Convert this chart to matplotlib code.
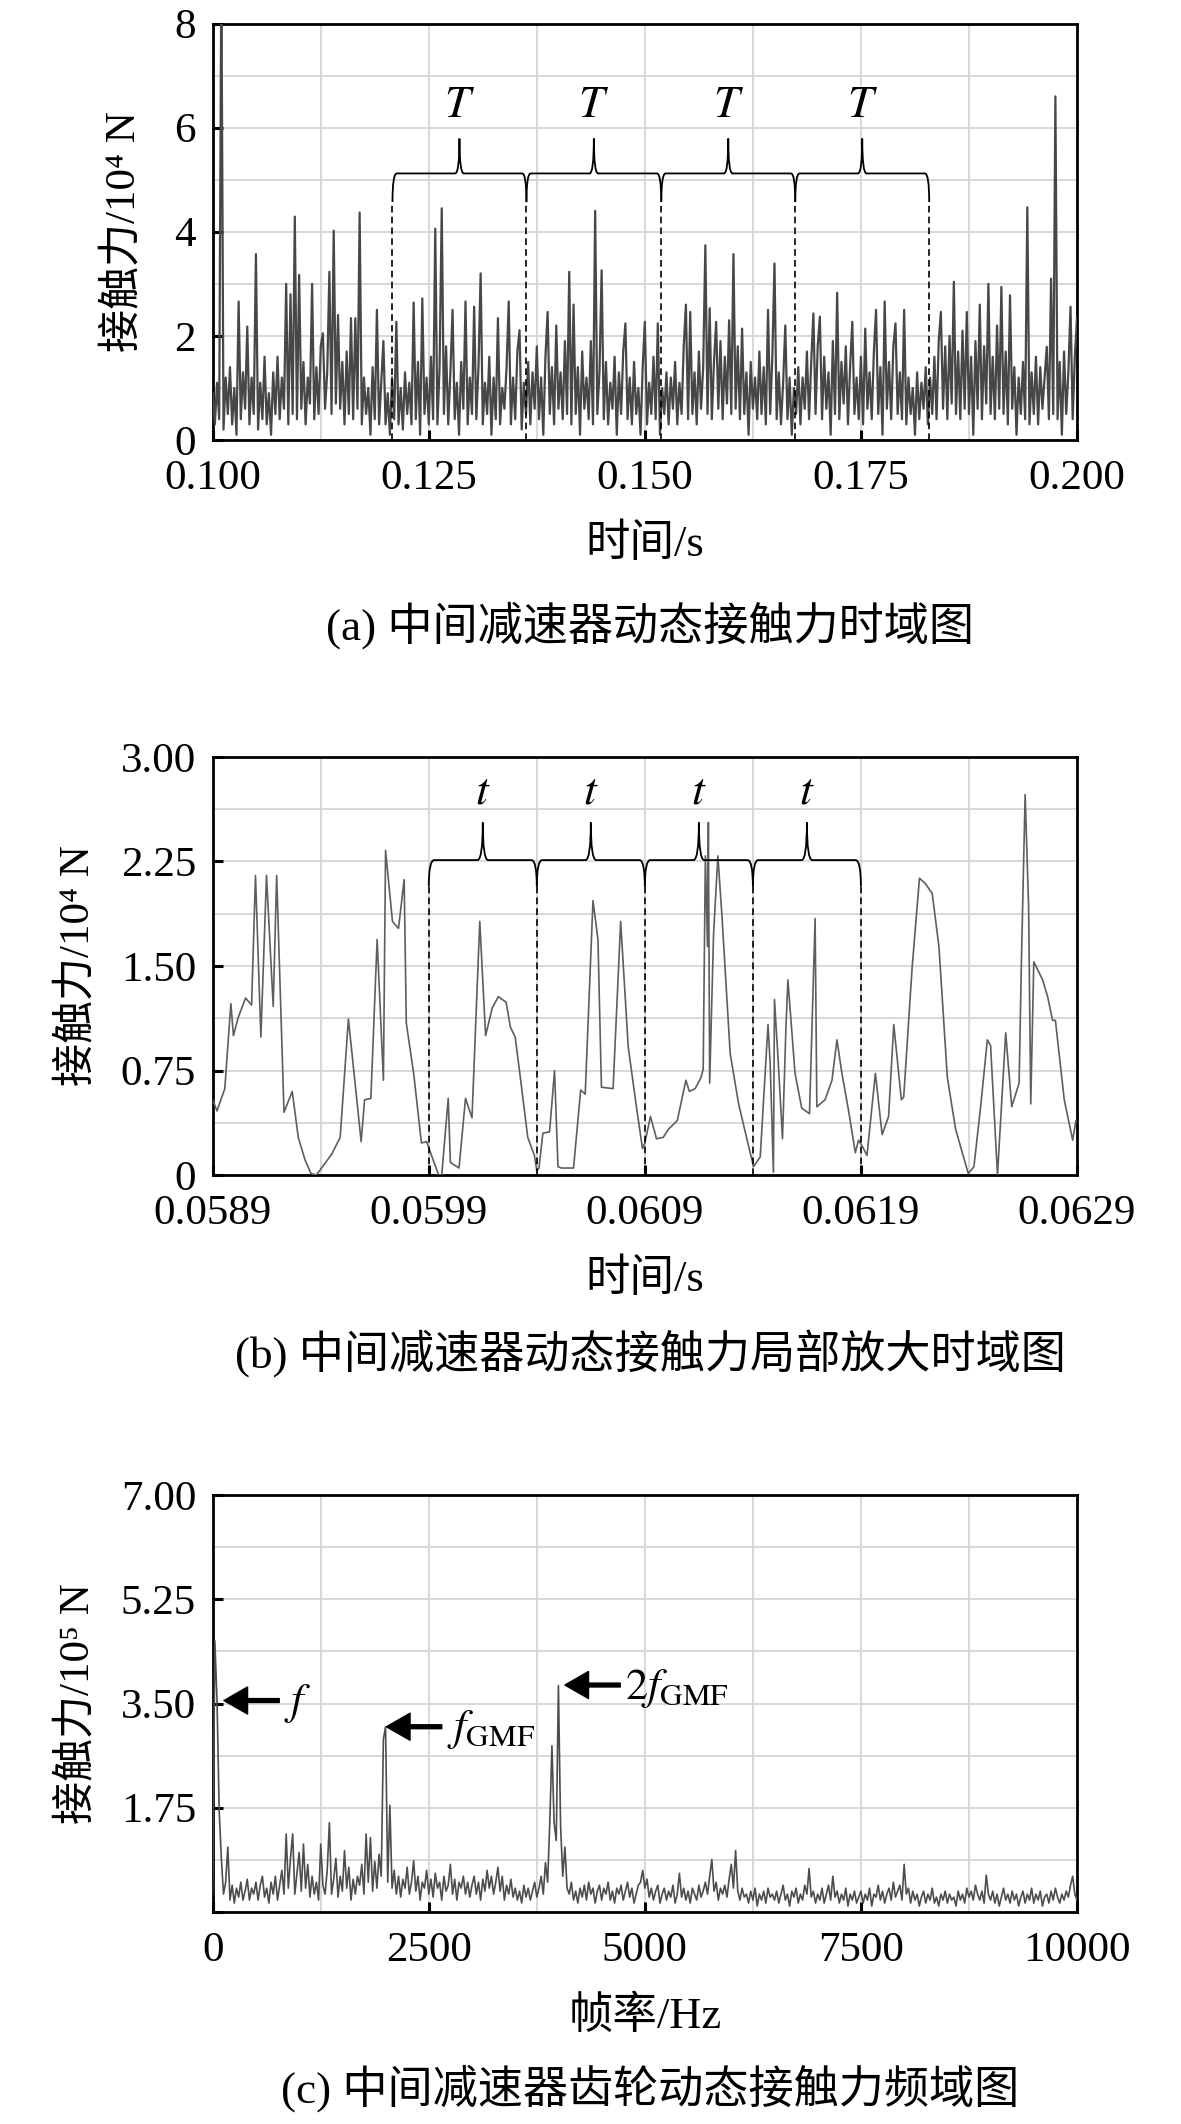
import numpy as np
import matplotlib
matplotlib.use('Agg')
import matplotlib.pyplot as plt
from matplotlib.path import Path
from matplotlib.patches import PathPatch

plt.rcParams['font.family'] = ['Liberation Serif', 'Noto Sans CJK SC', 'DejaVu Serif']
plt.rcParams['mathtext.fontset'] = 'stix'
plt.rcParams['axes.unicode_minus'] = False

# ---------------- data ----------------
# (a) contact force, 0.100-0.200 s, unit 1e4 N (sampled every 0.25 ms)
a_force = [
    0.9, 0.3, 1.1, 0.4, 9.0, 0.2, 1.2, 0.5, 1.4, 0.3, 1.0, 0.1, 2.66, 0.4, 1.3, 0.6, 2.18, 0.3, 1.2, 0.5,
    3.57, 0.2, 1.1, 0.4, 1.6, 0.3, 0.9, 0.1, 1.3, 0.5, 1.6, 0.4, 1.2, 0.6, 3.0, 0.3, 2.8, 0.5, 4.29, 0.4,
    3.17, 0.6, 1.5, 0.3, 1.2, 0.7, 3.0, 0.4, 1.4, 0.5, 1.8, 2.05, 0.6, 1.3, 3.23, 0.5, 4.02, 0.7, 2.4, 0.6,
    1.5, 0.3, 1.7, 0.5, 2.34, 0.4, 2.34, 0.6, 4.37, 0.3, 1.2, 0.5, 1.0, 0.1, 1.4, 0.4, 2.5, 0.3, 1.1, 1.9,
    0.3, 0.9, 0.1, 1.2, 0.4, 2.27, 0.3, 1.0, 0.2, 1.3, 0.5, 1.1, 0.3, 2.64, 0.4, 1.5, 0.1, 2.72, 0.5, 1.2,
    0.3, 1.6, 0.4, 4.06, 0.3, 1.4, 4.45, 0.5, 1.8, 0.3, 1.3, 2.5, 0.4, 1.1, 0.1, 1.5, 0.6, 2.66, 0.3, 1.2,
    0.5, 2.56, 0.4, 1.4, 3.2, 0.3, 1.1, 0.5, 1.6, 0.1, 1.2, 0.4, 2.34, 0.3, 1.0, 0.6, 1.4, 2.66, 0.3, 1.2,
    0.4, 1.7, 2.11, 0.2, 1.1, 0.5, 1.5, 0.3, 1.3, 0.6, 1.8, 0.4, 1.2, 0.1, 1.6, 2.46, 0.5, 1.4, 0.3, 2.2,
    0.6, 1.3, 0.4, 1.9, 0.5, 3.23, 0.3, 2.6, 0.5, 1.4, 0.1, 1.7, 0.6, 1.2, 0.4, 1.9, 0.3, 4.4, 0.5, 1.3,
    3.26, 0.4, 1.5, 0.3, 1.1, 0.6, 1.6, 0.1, 1.3, 0.5, 1.7, 2.24, 0.4, 1.2, 0.3, 1.5, 0.5, 1.0, 0.1, 1.4,
    2.27, 0.3, 1.1, 0.5, 1.6, 0.4, 2.24, 0.1, 1.0, 0.5, 1.3, 0.3, 1.2, 0.6, 1.5, 0.3, 1.1, 0.5, 1.8, 2.6,
    0.4, 2.46, 0.5, 1.3, 0.3, 1.7, 0.6, 1.4, 3.74, 0.5, 2.53, 0.4, 1.5, 2.27, 0.6, 1.9, 0.4, 1.6, 0.7, 2.3,
    0.5, 3.57, 0.6, 1.8, 0.4, 2.14, 0.5, 1.3, 0.1, 1.5, 0.6, 1.2, 0.4, 1.7, 0.5, 1.4, 0.3, 2.5, 0.5, 1.6,
    3.39, 0.4, 1.3, 0.3, 1.1, 2.2, 0.4, 1.2, 0.1, 1.0, 0.5, 1.4, 0.3, 1.2, 0.6, 1.7, 0.4, 1.5, 2.43, 0.5,
    1.8, 2.37, 0.4, 1.6, 0.6, 1.3, 0.1, 1.9, 0.5, 2.83, 0.4, 1.5, 0.7, 1.8, 0.3, 1.4, 2.27, 0.5, 1.2, 0.4,
    1.6, 0.3, 2.14, 0.6, 1.3, 0.4, 1.7, 2.5, 0.5, 1.4, 0.1, 2.66, 0.6, 1.5, 0.4, 1.8, 2.24, 0.5, 1.3, 0.4,
    2.5, 0.3, 1.2, 0.5, 1.0, 0.1, 1.3, 0.4, 1.1, 0.6, 1.4, 0.3, 1.2, 0.5, 1.6, 0.4, 1.9, 2.46, 0.6, 1.8,
    0.4, 2.0, 0.7, 3.04, 0.5, 1.7, 0.4, 2.1, 0.6, 2.46, 0.5, 1.6, 0.1, 1.9, 0.6, 2.6, 0.4, 1.8, 0.7, 3.0,
    0.5, 1.6, 0.4, 2.2, 0.6, 2.94, 0.5, 1.7, 0.3, 2.78, 0.6, 1.4, 0.1, 1.2, 0.5, 1.5, 0.4, 4.47, 0.3, 1.3,
    0.5, 1.6, 0.3, 1.4, 0.6, 1.2, 1.79, 0.4, 3.1, 0.5, 6.6, 0.4, 1.5, 0.1, 1.7, 0.5, 1.3, 2.56, 0.4, 1.6,
    2.34,
]
a_xticks = [0.100, 0.125, 0.150, 0.175, 0.200]
a_xticklabels = ['0.100', '0.125', '0.150', '0.175', '0.200']
a_yticks = [0, 2, 4, 6, 8]
a_yticklabels = ['0', '2', '4', '6', '8']
a_brace_edges = [0.1208, 0.1363, 0.1519, 0.1674, 0.1829]

# (b) zoomed contact force, time in ms, unit 1e4 N
b_time_ms = [
    58.900, 58.920, 58.956, 58.984, 58.996, 59.018, 59.052, 59.080, 59.098, 59.123,
    59.149, 59.180, 59.196, 59.230, 59.268, 59.296, 59.327, 59.355, 59.380, 59.451,
    59.490, 59.528, 59.587, 59.603, 59.632, 59.661, 59.690, 59.700, 59.732, 59.760,
    59.786, 59.796, 59.830, 59.866, 59.890, 59.915, 59.946, 59.960, 59.990, 60.000,
    60.040, 60.070, 60.100, 60.136, 60.163, 60.194, 60.222, 60.258, 60.278, 60.300,
    60.327, 60.358, 60.389, 60.400, 60.410, 60.428, 60.459, 60.482, 60.498, 60.513,
    60.570, 60.603, 60.624, 60.660, 60.683, 60.699, 60.753, 60.788, 60.823, 60.861,
    60.889, 60.900, 60.926, 60.954, 60.985, 61.010, 61.050, 61.090, 61.106, 61.133,
    61.160, 61.170, 61.180, 61.190, 61.194, 61.200, 61.218, 61.238, 61.256, 61.295,
    61.334, 61.372, 61.403, 61.434, 61.470, 61.480, 61.495, 61.500, 61.517, 61.537,
    61.553, 61.562, 61.595, 61.626, 61.662, 61.688, 61.696, 61.734, 61.766, 61.789,
    61.812, 61.843, 61.874, 61.889, 61.905, 61.928, 61.967, 61.998, 62.028, 62.052,
    62.087, 62.098, 62.137, 62.171, 62.199, 62.230, 62.261, 62.300, 62.338, 62.369,
    62.397, 62.423, 62.454, 62.485, 62.500, 62.532, 62.570, 62.598, 62.632, 62.643,
    62.660, 62.676, 62.686, 62.700, 62.741, 62.764, 62.787, 62.800, 62.841, 62.880,
    62.895,
]
b_force = [
    0.54, 0.46, 0.62, 1.23, 1.00, 1.13, 1.27, 1.22, 2.15, 0.99,
    2.15, 1.21, 2.15, 0.45, 0.60, 0.27, 0.11, 0.01, 0.00, 0.15,
    0.27, 1.12, 0.24, 0.54, 0.55, 1.69, 0.68, 2.33, 1.82, 1.77,
    2.12, 1.09, 0.73, 0.23, 0.24, 0.13, 0.00, 0.00, 0.55, 0.09,
    0.05, 0.55, 0.41, 1.82, 1.00, 1.20, 1.28, 1.24, 1.06, 0.99,
    0.66, 0.27, 0.14, 0.03, 0.05, 0.30, 0.31, 0.75, 0.06, 0.05,
    0.05, 0.61, 0.58, 1.97, 1.69, 0.63, 0.62, 1.82, 0.92, 0.49,
    0.19, 0.23, 0.42, 0.26, 0.27, 0.33, 0.39, 0.68, 0.60, 0.62,
    0.70, 0.76, 2.29, 1.64, 2.53, 0.66, 1.73, 2.29, 1.88, 0.87,
    0.51, 0.26, 0.06, 0.13, 1.08, 0.80, 0.02, 1.26, 0.82, 0.26,
    1.06, 1.40, 0.73, 0.48, 0.44, 1.84, 0.49, 0.54, 0.68, 0.97,
    0.73, 0.46, 0.16, 0.25, 0.21, 0.14, 0.73, 0.29, 0.42, 1.08,
    0.54, 0.56, 1.49, 2.13, 2.09, 2.02, 1.64, 0.70, 0.33, 0.16,
    0.01, 0.06, 0.49, 0.97, 0.93, 0.00, 1.02, 0.49, 0.66, 1.55,
    2.73, 1.93, 0.51, 1.53, 1.40, 1.28, 1.11, 1.11, 0.54, 0.25,
    0.39,
]
b_xticks = [0.0589, 0.0599, 0.0609, 0.0619, 0.0629]
b_xticklabels = ['0.0589', '0.0599', '0.0609', '0.0619', '0.0629']
b_yticks = [0, 0.75, 1.50, 2.25, 3.00]
b_yticklabels = ['0', '0.75', '1.50', '2.25', '3.00']
b_brace_edges = [0.0599, 0.0604, 0.0609, 0.0614, 0.0619]

# (c) spectrum, 0-10000 Hz (25 Hz bins), unit 1e5 N
c_amp = [
    0.3, 4.55, 3.55, 1.7, 0.9, 0.3, 0.5, 1.09, 0.2, 0.45, 0.15, 0.4, 0.25, 0.5, 0.2, 0.35, 0.55, 0.2, 0.4, 0.3,
    0.5, 0.2, 0.45, 0.6, 0.25, 0.4, 0.15, 0.5, 0.3, 0.6, 0.2, 0.45, 0.7, 0.3, 1.31, 0.4, 0.9, 1.31, 0.3, 0.65,
    1.0, 0.35, 1.14, 0.4, 0.8, 0.25, 0.6, 0.3, 0.5, 0.2, 1.14, 0.45, 0.3, 0.7, 1.5, 0.3, 0.55, 0.9, 0.25, 0.6,
    0.35, 1.03, 0.4, 0.75, 0.2, 0.55, 0.3, 0.6, 0.45, 0.8, 0.3, 1.31, 0.5, 1.25, 0.35, 0.85, 0.4, 0.97, 0.6, 2.9,
    3.11, 0.5, 1.79, 0.4, 0.7, 0.3, 0.6, 0.25, 0.55, 0.4, 0.75, 0.3, 0.5, 0.86, 0.35, 0.6, 0.2, 0.5, 0.4, 0.7,
    0.3, 0.55, 0.25, 0.65, 0.4, 0.5, 0.2, 0.6, 0.35, 0.45, 0.8, 0.3, 0.55, 0.2, 0.5, 0.4, 0.6, 0.3, 0.5, 0.25,
    0.45, 0.6, 0.3, 0.5, 0.2, 0.55, 0.35, 0.7, 0.4, 0.6, 0.3, 0.5, 0.75, 0.35, 0.6, 0.2, 0.45, 0.3, 0.55, 0.25,
    0.4, 0.2, 0.35, 0.15, 0.45, 0.25, 0.4, 0.2, 0.35, 0.5, 0.25, 0.4, 0.6, 0.3, 0.83, 0.5, 1.5, 2.79, 1.5, 1.2,
    3.8, 1.45, 0.6, 1.09, 0.4, 0.3, 0.5, 0.2, 0.35, 0.15, 0.4, 0.25, 0.45, 0.2, 0.5, 0.3, 0.4, 0.15, 0.35, 0.45,
    0.2, 0.4, 0.3, 0.5, 0.2, 0.35, 0.15, 0.4, 0.3, 0.45, 0.2, 0.35, 0.5, 0.25, 0.4, 0.15, 0.3, 0.45, 0.5, 0.7,
    0.4, 0.55, 0.25, 0.4, 0.2, 0.35, 0.45, 0.15, 0.3, 0.4, 0.2, 0.35, 0.25, 0.45, 0.15, 0.3, 0.65, 0.25, 0.4, 0.2,
    0.35, 0.15, 0.4, 0.3, 0.2, 0.45, 0.25, 0.35, 0.5, 0.3, 0.6, 0.88, 0.35, 0.5, 0.2, 0.4, 0.3, 0.45, 0.25, 0.55,
    0.8, 0.4, 1.03, 0.35, 0.2, 0.4, 0.25, 0.3, 0.15, 0.35, 0.2, 0.4, 0.1, 0.3, 0.2, 0.35, 0.15, 0.4, 0.25, 0.3,
    0.2, 0.35, 0.15, 0.3, 0.45, 0.2, 0.3, 0.1, 0.35, 0.25, 0.4, 0.15, 0.3, 0.2, 0.45, 0.3, 0.73, 0.25, 0.35, 0.15,
    0.3, 0.2, 0.4, 0.15, 0.3, 0.45, 0.2, 0.6, 0.25, 0.35, 0.15, 0.3, 0.2, 0.4, 0.1, 0.3, 0.2, 0.35, 0.15, 0.25,
    0.35, 0.15, 0.3, 0.2, 0.4, 0.1, 0.3, 0.25, 0.45, 0.2, 0.35, 0.15, 0.3, 0.4, 0.2, 0.5, 0.25, 0.35, 0.45, 0.2,
    0.8, 0.3, 0.4, 0.15, 0.35, 0.2, 0.3, 0.1, 0.25, 0.35, 0.15, 0.3, 0.2, 0.4, 0.15, 0.25, 0.1, 0.3, 0.2, 0.35,
    0.15, 0.3, 0.2, 0.25, 0.1, 0.35, 0.2, 0.3, 0.15, 0.4, 0.25, 0.35, 0.2, 0.45, 0.3, 0.2, 0.35, 0.15, 0.62, 0.3,
    0.2, 0.35, 0.15, 0.3, 0.1, 0.25, 0.4, 0.2, 0.3, 0.15, 0.35, 0.2, 0.3, 0.1, 0.25, 0.35, 0.15, 0.3, 0.2, 0.4,
    0.15, 0.3, 0.2, 0.35, 0.1, 0.25, 0.3, 0.15, 0.35, 0.2, 0.4, 0.25, 0.15, 0.3, 0.2, 0.35, 0.25, 0.45, 0.6, 0.3,
    0.2,
]
c_xticks = [0, 2500, 5000, 7500, 10000]
c_xticklabels = ['0', '2500', '5000', '7500', '10000']
c_yticks = [0, 1.75, 3.50, 5.25, 7.00]
c_yticklabels = ['', '1.75', '3.50', '5.25', '7.00']
# peak markers: (arrow tip x, arrow tip y, label)
c_peaks = [(130, 3.55, r'$f$'), (2010, 3.11, r'$f_{\mathrm{GMF}}$'), (4075, 3.81, r'$2f_{\mathrm{GMF}}$')]


W, H = 1181, 2124
fig = plt.figure(figsize=(W / 100, H / 100), dpi=100)


def px_axes(top, bottom):
    left, right = 212.7, 1077
    return fig.add_axes([left / W, 1 - bottom / H, (right - left) / W, (bottom - top) / H])


def style(ax, xlim, ylim, xticks, xlabels, yticks, ylabels, xminor, yminor, xlabel, ylabel, ylab_x):
    ax.set_xlim(*xlim)
    ax.set_ylim(*ylim)
    ax.set_xticks(xticks)
    ax.set_xticklabels(xlabels)
    ax.set_yticks(yticks)
    ax.set_yticklabels(ylabels)
    ax.set_xticks(xminor, minor=True)
    ax.set_yticks(yminor, minor=True)
    ax.set_axisbelow(True)
    ax.grid(which='both', color='#d6d6d6', lw=1.3)
    ax.tick_params(which='major', direction='in', length=7, width=2.2, labelsize=31,
                   top=False, right=False)
    ax.tick_params(axis='x', pad=14)
    ax.tick_params(axis='y', pad=12)
    ax.tick_params(which='minor', length=0)
    for s in ax.spines.values():
        s.set_linewidth(2.0)
    ax.set_xlabel(xlabel, fontsize=32)
    ax.xaxis.label.set_va('center')
    ax.xaxis.set_label_coords(0.5, -0.25)
    ax.set_ylabel(ylabel, fontsize=31)
    ax.yaxis.label.set_va('center')
    ax.yaxis.set_label_coords(ylab_x, 0.5)


def braces(ax, edges, y_end, y_line, y_peak, y_text, w, label, fs):
    for a, b in zip(edges[:-1], edges[1:]):
        m = (a + b) / 2
        verts = [(a, y_end), (a, y_line), (a + w, y_line), (m - w, y_line),
                 (m, y_line), (m, y_peak), (m, y_line), (m + w, y_line),
                 (b - w, y_line), (b, y_line), (b, y_end)]
        codes = [Path.MOVETO, Path.CURVE3, Path.CURVE3, Path.LINETO,
                 Path.CURVE3, Path.CURVE3, Path.CURVE3, Path.CURVE3,
                 Path.LINETO, Path.CURVE3, Path.CURVE3]
        ax.add_patch(PathPatch(Path(verts, codes), fill=False, lw=1.3, edgecolor='k', zorder=4))
        ax.text(m, y_text, label, fontsize=fs, ha='center', va='center', zorder=4)
    ax.vlines(edges, 0, y_end, colors='k', lw=1.2, linestyles=(0, (4, 2.5)), zorder=4)


# ---- (a) ----
ax1 = px_axes(23.5, 440)
t_a = np.linspace(a_xticks[0], a_xticks[-1], len(a_force))
ax1.plot(t_a, a_force, color='#474747', lw=1.6, zorder=3)
style(ax1, (0.1, 0.2), (0, 8), a_xticks, a_xticklabels, a_yticks, a_yticklabels,
      np.arange(0.1, 0.2001, 0.0125), np.arange(0, 8.01, 1), '时间/s', '接触力/10⁴ N', -0.103)
braces(ax1, a_brace_edges, 4.57, 5.12, 5.79, 6.42, 0.0005, r'$T$', 33)

# ---- (b) ----
ax2 = px_axes(757, 1175)
ax2.plot(np.array(b_time_ms) / 1000, b_force, color='#5e5e5e', lw=1.2, zorder=3)
style(ax2, (0.0589, 0.0629), (0, 3), b_xticks, b_xticklabels, b_yticks, b_yticklabels,
      np.arange(0.0589, 0.06291, 0.0005), np.arange(0, 3.01, 0.375), '时间/s', '接触力/10⁴ N', -0.157)
braces(ax2, b_brace_edges, 2.07, 2.26, 2.53, 2.75, 0.000025, r'$t$', 33)

# ---- (c) ----
ax3 = px_axes(1495, 1912)
f_c = np.linspace(c_xticks[0], c_xticks[-1], len(c_amp))
ax3.plot(f_c, c_amp, color='#4d4d4d', lw=1.2, zorder=3)
style(ax3, (0, 10000), (0, 7), c_xticks, c_xticklabels, c_yticks, c_yticklabels,
      np.arange(0, 10001, 1250), np.arange(0, 7.01, 0.875), '帧率/Hz', '接触力/10⁵ N', -0.157)
for x, y, lab in c_peaks:
    ax3.annotate('', xy=(x, y), xytext=(x + 640, y),
                 arrowprops=dict(facecolor='k', edgecolor='k', width=2.8, headwidth=19.5,
                                 headlength=17, shrink=0), zorder=5)
    ax3.text(x + 700, y - 0.05, lab, fontsize=32, ha='left', va='center', zorder=5)

# captions
fig.text(650 / W, 1 - 625 / H, '(a) 中间减速器动态接触力时域图', ha='center', va='center', fontsize=32.5)
fig.text(650 / W, 1 - 1353 / H, '(b) 中间减速器动态接触力局部放大时域图', ha='center', va='center', fontsize=32.5)
fig.text(650 / W, 1 - 2088 / H, '(c) 中间减速器齿轮动态接触力频域图', ha='center', va='center', fontsize=32.5)

fig.savefig('out.png', dpi=100)
